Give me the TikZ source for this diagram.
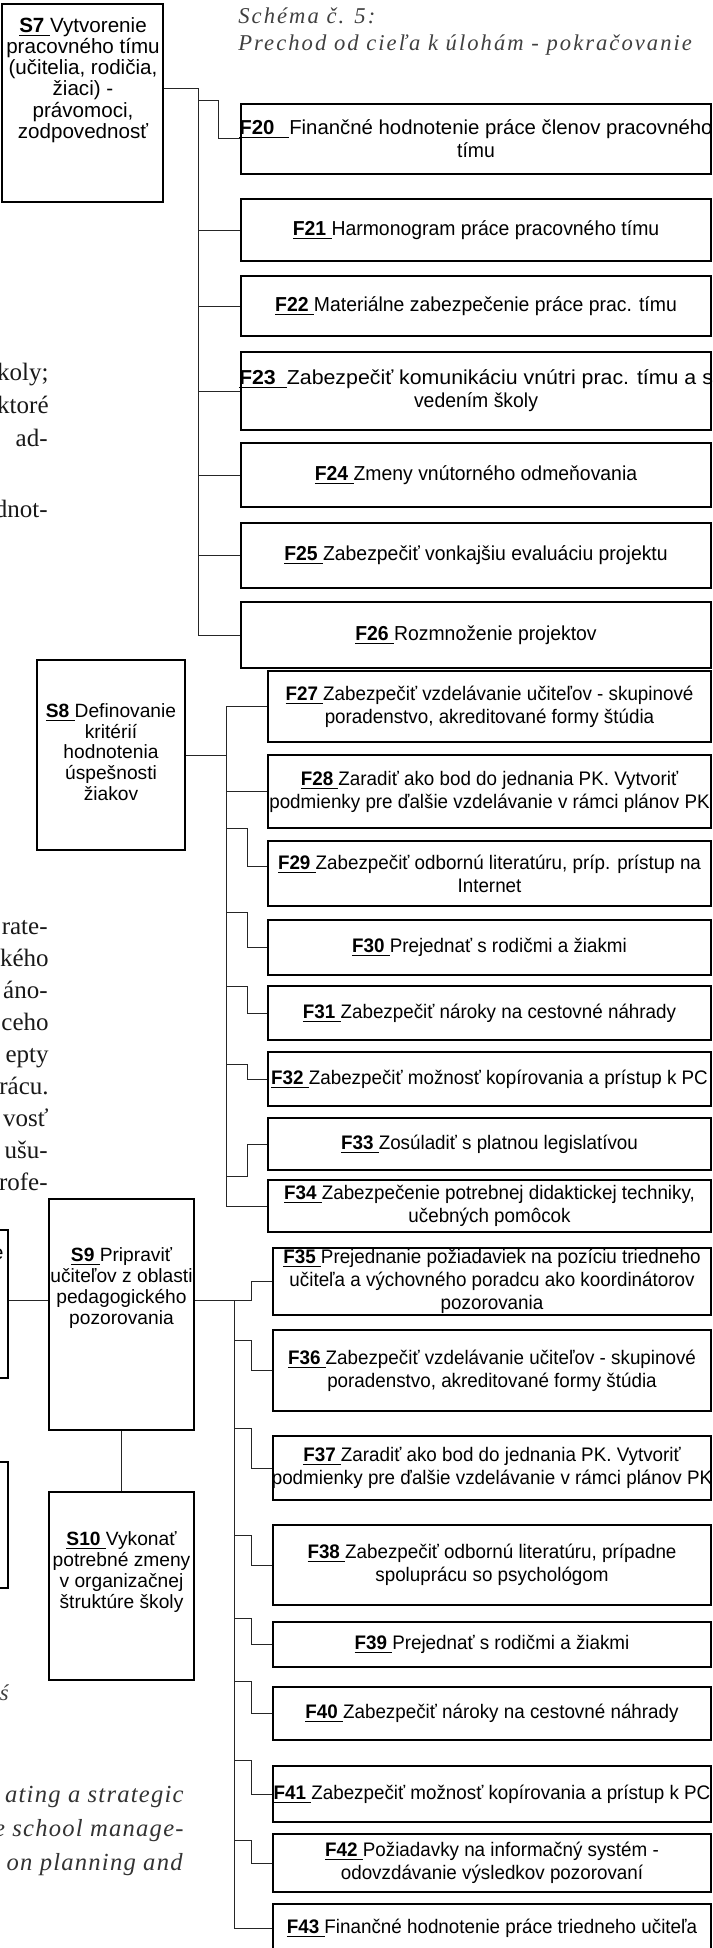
\documentclass[tikz,border=0pt]{standalone}
\usepackage{graphicx}
\usepackage{fontspec}
\setmainfont{Liberation Serif}
\newfontfamily\arial{Liberation Sans}
\newfontfamily\arialn{Liberation Sans}[FakeStretch=0.96]
\newfontfamily\tserif{Liberation Serif}[LetterSpace=9]
\newfontfamily\bserif{Liberation Serif}[LetterSpace=5]
\usetikzlibrary{calc}
\newcommand\cl[1]{\makebox[0pt]{#1}}
\newcommand\lab[1]{\underline{\textbf{#1}\ }}
\newcommand\bx[7]{\node[#1, minimum width={(#5-#3)*0.5pt}, minimum height={(#6-#4)*0.5pt}] (#2) at ({(#3+#5)/2},{(#4+#6)/2}) {#7};}
\tikzset{
 sbox/.style={draw=black, line width=0.6pt, inner sep=0pt},
 stext/.style={align=center, inner sep=0pt, font=\arial\fontsize{9.6}{10.4}\selectfont},
 fb/.style={draw=black, line width=0.6pt, align=center, inner sep=0pt, font=\arialn\fontsize{9.8}{11.5}\selectfont},
 fbA/.style={fb, font=\arialn\fontsize{10.1}{11.6}\selectfont},
 conn/.style={draw=black!85, line width=0.5pt},
 body/.style={font=\fontsize{12.5}{15}\selectfont, text=black!90, inner sep=0pt, anchor=base east},
 ital/.style={font=\tserif\itshape\fontsize{11.3}{12.5}\selectfont, text=black!75, inner sep=0pt},
 bital/.style={font=\bserif\itshape\fontsize{12.3}{14}\selectfont, text=black!80, inner sep=0pt, anchor=base east}
}
\begin{document}
\begin{tikzpicture}[x=0.5pt,y=-0.5pt]
\useasboundingbox (0,0) rectangle (712,1948);
\fill[white] (0,0) rectangle (712,1948);
\clip (0,0) rectangle (712,1948);

% ---------- title ----------
\node[ital, anchor=base west] (title1) at (238,24) {Schéma č. 5:};
\node[ital, anchor=base west] (title2) at (238,51) {Prechod od cieľa k úlohám - pokračovanie};

% ---------- left page fragments ----------
\node[body] (p1) at (49,380) {koly;};
\node[body] (p2) at (49,413) {ktoré};
\node[body] (p3) at (48,446) {ad-};
\node[body] (p4) at (48,517) {dnot-};
\node[body] (q1) at (48,934) {rate-};
\node[body] (q2) at (49,966) {kého};
\node[body] (q3) at (48,998) {áno-};
\node[body] (q4) at (49,1030) {ceho};
\node[body] (q5) at (49,1062) {epty};
\node[body] (q6) at (49,1094) {rácu.};
\node[body] (q7) at (49,1126) {vosť};
\node[body] (q8) at (48,1158) {ušu-};
\node[body] (q9) at (48,1190) {rofe-};
\node[ital, anchor=base east] (r0) at (9,1700) {ś};
\node[bital] (r1) at (184,1802) {ating a strategic};
\node[bital] (r2) at (184,1836) {e school manage-};
\node[bital] (r3) at (183,1870) {on planning and};
\node[draw=black, line width=0.6pt, minimum width=9pt, minimum height=74pt, inner sep=0pt] (L1) at (-1,1304) {};
\node[draw=black, line width=0.6pt, minimum width=9pt, minimum height=63pt, inner sep=0pt] (L2) at (-1,1525) {};
\node[anchor=base east, inner sep=0pt, font=\arial\fontsize{10}{11}\selectfont] (lf) at (4,1259) {e};

% ---------- group S7 ----------
\bx{sbox}{S7}{2}{4}{163}{202}{}
\node[stext, font=\arial\fontsize{10.3}{10.6}\selectfont] (S7t) at (83,80) {\lab{S7}Vytvorenie\\pracovného tímu\\(učitelia, rodičia,\\žiaci) -\\právomoci,\\zodpovednosť};
\bx{fbA}{F20}{241}{104}{711}{174}{\cl{\scalebox{1.05}[1]{\underline{\textbf{F20}\hspace{0.7em}}Finančné hodnotenie práce členov pracovného}}\\\cl{tímu}}
\bx{fbA}{F21}{241}{199}{711}{261}{\cl{\lab{F21}Harmonogram práce pracovného tímu}}
\bx{fbA}{F22}{241}{276}{711}{336}{\cl{\lab{F22}Materiálne zabezpečenie práce prac. tímu}}
\bx{fbA}{F23}{241}{352}{711}{430}{\cl{\scalebox{1.1}[1]{\underline{\textbf{F23}\hspace{0.5em}}Zabezpečiť komunikáciu vnútri prac. tímu a s}}\\\cl{vedením školy}}
\bx{fbA}{F24}{241}{443}{711}{507}{\cl{\lab{F24}Zmeny vnútorného odmeňovania}}
\bx{fbA}{F25}{241}{523}{711}{588}{\cl{\lab{F25}Zabezpečiť vonkajšiu evaluáciu projektu}}
\bx{fbA}{F26}{241}{602}{711}{668}{\cl{\lab{F26}Rozmnoženie projektov}}

\coordinate (a0) at (198,89);
\coordinate (a1) at (198,101);
\draw[conn] (S7.east |- a0) -- (a0) -- (a0 |- F26.west) -- (F26.west);
\draw[conn] (a1) -| ([xshift=-11pt]F20.west) -- (F20.west);
\foreach \n in {F21,F22,F23,F24,F25}{\draw[conn] (a0 |- \n.west) -- (\n.west);}

% ---------- group S8 ----------
\bx{sbox}{S8}{37}{660}{185}{850}{}
\node[stext] (S8t) at (111,752) {\lab{S8}Definovanie\\kritérií\\hodnotenia\\úspešnosti\\žiakov};
\bx{fb}{F27}{268}{671}{711}{742}{\cl{\lab{F27}Zabezpečiť vzdelávanie učiteľov - skupinové}\\\cl{poradenstvo, akreditované formy štúdia}}
\bx{fb}{F28}{268}{755}{711}{828}{\cl{\lab{F28}Zaradiť ako bod do jednania PK. Vytvoriť}\\\cl{podmienky pre ďalšie vzdelávanie v rámci plánov PK}}
\bx{fb}{F29}{268}{841}{711}{906}{\cl{\lab{F29}Zabezpečiť odbornú literatúru, príp. prístup na}\\\cl{Internet}}
\bx{fb}{F30}{268}{920}{711}{975}{\cl{\lab{F30}Prejednať s rodičmi a žiakmi}}
\bx{fb}{F31}{268}{986}{711}{1040}{\cl{\lab{F31}Zabezpečiť nároky na cestovné náhrady}}
\bx{fb}{F32}{268}{1052}{711}{1106}{\cl{\lab{F32}Zabezpečiť možnosť kopírovania a prístup k PC}}
\bx{fb}{F33}{268}{1118}{711}{1170}{\cl{\lab{F33}Zosúladiť s platnou legislatívou}}
\bx{fb}{F34}{268}{1180}{711}{1232}{\cl{\lab{F34}Zabezpečenie potrebnej didaktickej techniky,}\\\cl{učebných pomôcok}}

\coordinate (b0) at (226,706);
\coordinate (b29) at (226,828);
\coordinate (b30) at (226,912);
\coordinate (b31) at (226,986);
\coordinate (b32) at (226,1064);
\coordinate (b33) at (226,1176);
\draw[conn] (S8.east) -- (S8.east -| b0);
\draw[conn] (F27.west) -- (b0 |- F27.west) -- (b0 |- F34.west) -- (F34.west);
\draw[conn] (b0 |- F28.west) -- (F28.west);
\draw[conn] (b29) -| ([xshift=-10pt,yshift=3.5pt]F29.west) -- ([yshift=3.5pt]F29.west);
\foreach \n/\c in {F30/b30,F31/b31,F32/b32,F33/b33}{\draw[conn] (\c) -| ([xshift=-10pt]\n.west) -- (\n.west);}

% ---------- group S9 ----------
\bx{sbox}{S9}{49}{1199}{194}{1430}{}
\node[stext] (S9t) at (121.5,1288) {\lab{S9}Pripraviť\\učiteľov z oblasti\\pedagogického\\pozorovania};
\bx{sbox}{S10}{49}{1492}{194}{1680}{}
\node[stext] (S10t) at (121.5,1572) {\lab{S10}Vykonať\\potrebné zmeny\\v organizačnej\\štruktúre školy};
\bx{fb}{F35}{273}{1248}{711}{1315}{\cl{\lab{F35}Prejednanie požiadaviek na pozíciu triedneho}\\\cl{učiteľa a výchovného poradcu ako koordinátorov}\\\cl{pozorovania}}
\bx{fb}{F36}{273}{1330}{711}{1411}{\cl{\lab{F36}Zabezpečiť vzdelávanie učiteľov - skupinové}\\\cl{poradenstvo, akreditované formy štúdia}}
\bx{fb}{F37}{273}{1436}{711}{1500}{\cl{\lab{F37}Zaradiť ako bod do jednania PK. Vytvoriť}\\\cl{podmienky pre ďalšie vzdelávanie v rámci plánov PK}}
\bx{fb}{F38}{273}{1525}{711}{1605}{\cl{\lab{F38}Zabezpečiť odbornú literatúru, prípadne}\\\cl{spoluprácu so psychológom}}
\bx{fb}{F39}{273}{1622}{711}{1667}{\cl{\lab{F39}Prejednať s rodičmi a žiakmi}}
\bx{fb}{F40}{273}{1687}{711}{1740}{\cl{\lab{F40}Zabezpečiť nároky na cestovné náhrady}}
\bx{fb}{F41}{273}{1766}{711}{1822}{\cl{\lab{F41}Zabezpečiť možnosť kopírovania a prístup k PC}}
\bx{fb}{F42}{273}{1834}{711}{1892}{\cl{\lab{F42}Požiadavky na informačný systém -}\\\cl{odovzdávanie výsledkov pozorovaní}}
\bx{fb}{F43}{273}{1904}{711}{1952}{\cl{\lab{F43}Finančné hodnotenie práce triedneho učiteľa}}

\coordinate (c0) at (234,1300);
\coordinate (c36) at (234,1340);
\coordinate (c37) at (234,1428);
\coordinate (c38) at (234,1535);
\coordinate (c39) at (234,1618);
\coordinate (c40) at (234,1681);
\coordinate (c41) at (234,1760);
\coordinate (c42) at (234,1840);
\draw[conn] (S9.east |- c0) -| ([xshift=-10.5pt]F35.west) -- (F35.west);
\draw[conn] (c0) -- (c0 |- F43.west) -- (F43.west);
\foreach \n/\c in {F36/c36,F37/c37,F38/c38,F39/c39,F40/c40,F41/c41,F42/c42}{\draw[conn] (\c) -| ([xshift=-10.5pt]\n.west) -- (\n.west);}
\draw[conn] (S9.south) -- (S10.north);
\draw[conn] (L1.east |- c0) -- (S9.west |- c0);
\end{tikzpicture}
\end{document}
